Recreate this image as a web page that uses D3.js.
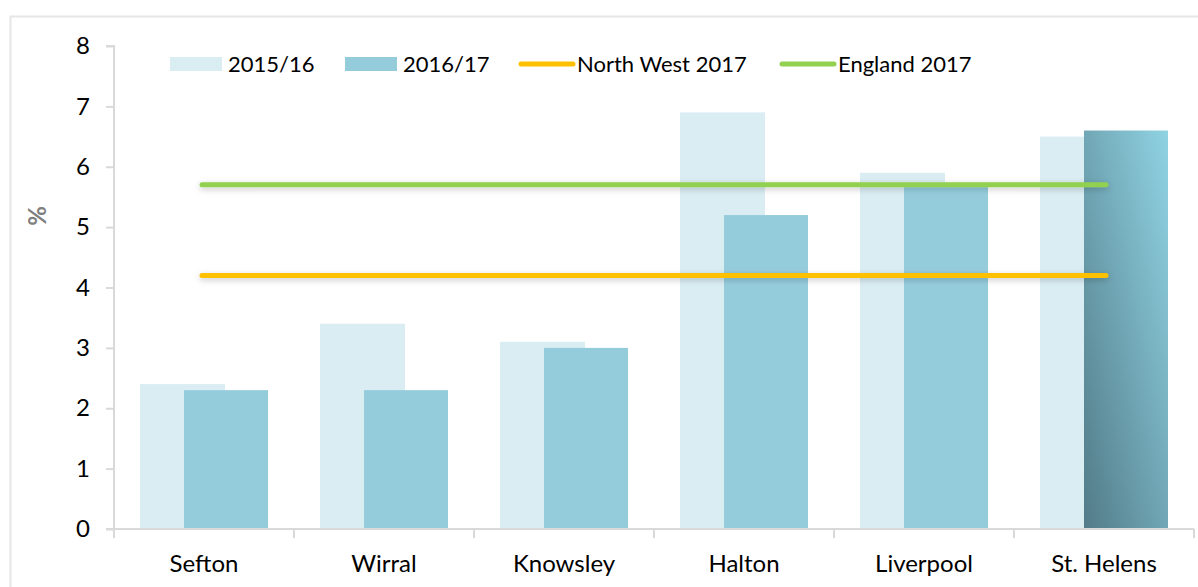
<!DOCTYPE html>
<html>
<head>
<meta charset="utf-8">
<script src="https://cdn.jsdelivr.net/npm/d3@7"></script>
<style>
  body { margin: 0; background: #fff; }
  text { font-family: Lato, "Open Sans", sans-serif; }
</style>
</head>
<body>
<div id="chart"></div>
<script>
// data
var areas = ["Sefton", "Wirral", "Knowsley", "Halton", "Liverpool", "St. Helens"];
var y2015 = [2.4, 3.4, 3.1, 6.9, 5.9, 6.5];
var y2016 = [2.3, 2.3, 3.0, 5.2, 5.7, 6.6];
var northWest2017 = 4.2;
var england2017 = 5.7;
var yTicks = [0, 1, 2, 3, 4, 5, 6, 7, 8];

var W = 1198, H = 587;
var margin = {top: 46, right: 4, bottom: 58, left: 114},
    width = W - margin.left - margin.right,
    height = H - margin.top - margin.bottom;

var svg = d3.select("#chart").append("svg")
    .attr("width", W)
    .attr("height", H);

var defs = svg.append("defs");
var grad = defs.append("linearGradient")
    .attr("id", "hiGrad")
    .attr("x1", 0).attr("y1", 1).attr("x2", 1).attr("y2", 0);
grad.append("stop").attr("offset", "0%").attr("stop-color", "#527b88");
grad.append("stop").attr("offset", "100%").attr("stop-color", "#90d3e3");

// horizontal lines have a zero-height box, so the filter works in user space
var shadow = defs.append("filter").attr("id", "shadow")
    .attr("filterUnits", "userSpaceOnUse")
    .attr("x", 0).attr("y", -50).attr("width", W).attr("height", H + 100);
shadow.append("feDropShadow")
    .attr("dx", 0).attr("dy", 2).attr("stdDeviation", 3)
    .attr("flood-color", "#000").attr("flood-opacity", 0.22);

// outer frame
svg.append("rect")
    .attr("x", 10.5).attr("y", 16.5)
    .attr("width", 1200).attr("height", 600)
    .attr("fill", "none")
    .attr("stroke", "#e6e6e6")
    .attr("stroke-width", 2);

var g = svg.append("g")
    .attr("transform", "translate(" + margin.left + "," + margin.top + ")");

var x = d3.scaleBand()
    .domain(areas)
    .range([0, width]);

var y = d3.scaleLinear()
    .domain([0, 8])
    .range([height, 0]);

var barW = 85, off1 = 26, off2 = 70;

// 2015/16 bars
g.selectAll(".b1")
    .data(areas)
    .enter().append("rect")
    .attr("class", "b1")
    .attr("x", function(d) { return x(d) + off1; })
    .attr("y", function(d, i) { return y(y2015[i]); })
    .attr("width", barW)
    .attr("height", function(d, i) { return height - y(y2015[i]); })
    .attr("fill", "#daedf3");

// 2016/17 bars
g.selectAll(".b2")
    .data(areas)
    .enter().append("rect")
    .attr("class", "b2")
    .attr("x", function(d) { return x(d) + off2; })
    .attr("y", function(d, i) { return y(y2016[i]); })
    .attr("width", barW - 1)
    .attr("height", function(d, i) { return height - y(y2016[i]); })
    .attr("fill", function(d) { return d === "St. Helens" ? "url(#hiGrad)" : "#95ccdc"; });

// y axis
var yAxis = g.append("g")
    .call(d3.axisLeft(y).tickValues(yTicks).tickSize(8).tickPadding(16).tickFormat(d3.format("d")));
yAxis.select(".domain").attr("stroke", "#d9d9d9").attr("stroke-width", 2).attr("d", "M-8,0H0V" + height + "H-8");
yAxis.selectAll(".tick line").attr("stroke", "#d9d9d9").attr("stroke-width", 2);
yAxis.selectAll(".tick text").attr("font-size", 24).attr("fill", "#000")
    .style("font-family", "Lato, 'Open Sans', sans-serif");

// x axis
var xAxis = g.append("g")
    .attr("transform", "translate(0," + height + ")")
    .call(d3.axisBottom(x).tickSize(0).tickPadding(26));
xAxis.select(".domain").attr("stroke", "#d9d9d9").attr("stroke-width", 2).attr("d", "M0,0H" + width);
xAxis.selectAll(".tick text").attr("font-size", 24).attr("fill", "#000")
    .style("font-family", "Lato, 'Open Sans', sans-serif");

// category boundary ticks
var bounds = areas.map(function(d) { return x(d); }).concat([width]);
g.selectAll(".bt")
    .data(bounds)
    .enter().append("line")
    .attr("x1", function(d) { return d; })
    .attr("x2", function(d) { return d; })
    .attr("y1", height)
    .attr("y2", height + 9)
    .attr("stroke", "#d9d9d9")
    .attr("stroke-width", 2);

// reference lines
var x0 = x(areas[0]) + x.bandwidth() / 2,
    x1 = x(areas[areas.length - 1]) + x.bandwidth() / 2;
var refs = [
  {v: northWest2017, c: "#ffc000"},
  {v: england2017, c: "#92d050"}
];
g.selectAll(".ref")
    .data(refs)
    .enter().append("line")
    .attr("x1", x0 - 2).attr("x2", x1 + 2)
    .attr("y1", function(d) { return y(d.v); })
    .attr("y2", function(d) { return y(d.v); })
    .attr("stroke", function(d) { return d.c; })
    .attr("stroke-width", 5)
    .attr("stroke-linecap", "round")
    .attr("filter", "url(#shadow)");

// y label
svg.append("text")
    .attr("transform", "translate(46,216) rotate(-90)")
    .attr("text-anchor", "middle")
    .attr("font-size", 24)
    .attr("font-weight", "bold")
    .attr("fill", "#7f7f7f")
    .text("%");

// legend
var legend = [
  {name: "2015/16", type: "rect", c: "#daedf3", x: 170},
  {name: "2016/17", type: "rect", c: "#95ccdc", x: 345},
  {name: "North West 2017", type: "line", c: "#ffc000", x: 519},
  {name: "England 2017", type: "line", c: "#92d050", x: 780}
];
var lg = svg.append("g").selectAll("g")
    .data(legend)
    .enter().append("g")
    .attr("transform", function(d) { return "translate(" + d.x + ",64)"; });
lg.filter(function(d) { return d.type === "rect"; }).append("rect")
    .attr("x", 0).attr("y", -7).attr("width", 52).attr("height", 14)
    .attr("fill", function(d) { return d.c; });
lg.filter(function(d) { return d.type === "line"; }).append("line")
    .attr("x1", 2).attr("x2", 54).attr("y1", 0).attr("y2", 0)
    .attr("stroke", function(d) { return d.c; })
    .attr("stroke-width", 5)
    .attr("stroke-linecap", "round");
lg.append("text")
    .attr("x", 58)
    .attr("y", 8)
    .attr("font-size", 22)
    .attr("fill", "#000")
    .text(function(d) { return d.name; });
</script>
</body>
</html>
